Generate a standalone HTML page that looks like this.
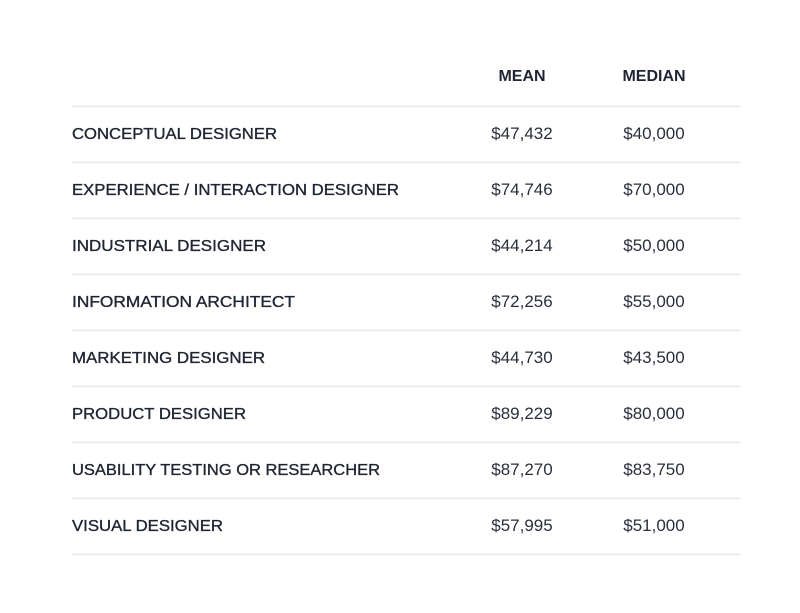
<!DOCTYPE html>
<html><head><meta charset="utf-8"><style>
html,body{margin:0;padding:0;background:#fff;}
svg{display:block;font-family:"Liberation Sans",sans-serif;}
</style></head><body>
<svg id="t" width="800" height="613" viewBox="0 0 800 613" xmlns="http://www.w3.org/2000/svg">
<text x="522" y="81" text-anchor="middle" font-size="16" font-weight="bold" fill="#1f2533">MEAN</text>
<text x="654" y="81" text-anchor="middle" font-size="16" font-weight="bold" fill="#1f2533">MEDIAN</text>
<line x1="72" x2="740" y1="106.5" y2="106.5" stroke="#e6e7ea" stroke-width="1.5"/>
<g id="rows"></g>
</svg>
<script>
const roles=["CONCEPTUAL DESIGNER","EXPERIENCE / INTERACTION DESIGNER","INDUSTRIAL DESIGNER","INFORMATION ARCHITECT","MARKETING DESIGNER","PRODUCT DESIGNER","USABILITY TESTING OR RESEARCHER","VISUAL DESIGNER"];
const widths=[205,327,194,223,193,174,308,151];
const means=["$47,432","$74,746","$44,214","$72,256","$44,730","$89,229","$87,270","$57,995"];
const medians=["$40,000","$70,000","$50,000","$55,000","$43,500","$80,000","$83,750","$51,000"];
const NS="http://www.w3.org/2000/svg";
const g=document.getElementById('rows');
function mk(tag,attrs,txt){const e=document.createElementNS(NS,tag);for(const k in attrs)e.setAttribute(k,attrs[k]);if(txt!=null)e.textContent=txt;g.appendChild(e);return e;}
roles.forEach((r,i)=>{
  const y=139+i*56;
  const a=mk('text',{x:72,y:y,'font-size':16,fill:'#1f2533',stroke:'#1f2533','stroke-width':0.35,textLength:widths[i],lengthAdjust:'spacingAndGlyphs'},r);
  
  
  const b=mk('text',{x:522,y:y,'font-size':17,fill:'#2a2f3c','text-anchor':'middle'},means[i]);
  
  
  const c=mk('text',{x:654,y:y,'font-size':17,fill:'#2a2f3c','text-anchor':'middle'},medians[i]);
  
  
  const l=mk('line',{x1:72,x2:740,y1:162.5+i*56,y2:162.5+i*56,stroke:'#e6e7ea','stroke-width':1.5});
  
  
});
</script>
</body></html>
